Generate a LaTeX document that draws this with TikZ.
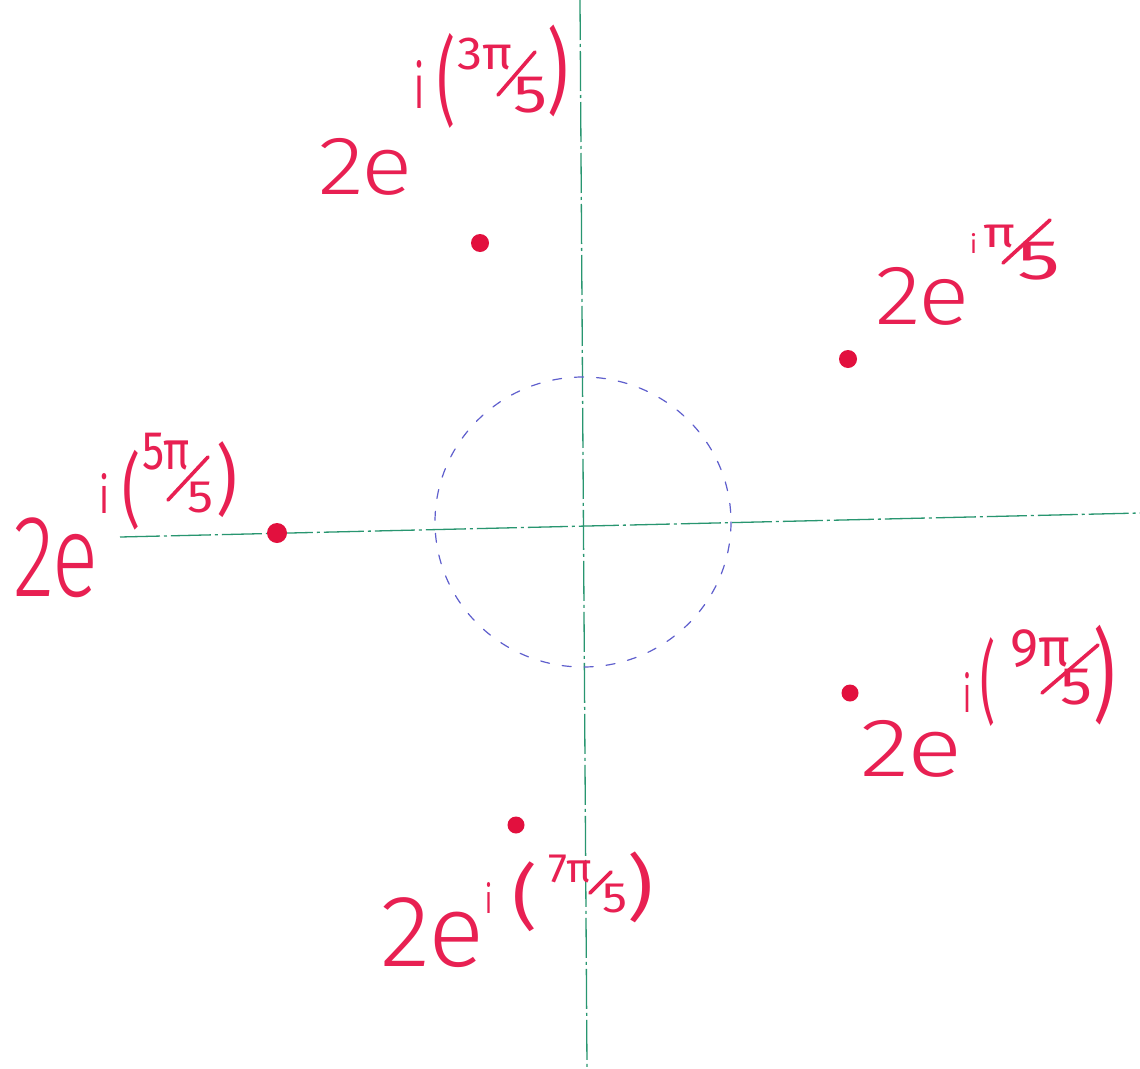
\documentclass[tikz,border=0pt]{standalone}
\usepackage{fontspec}
\setmainfont{Fira Sans}[UprightFont=* Light]
\newfontfamily\expfont{Fira Sans}
\usepackage{graphicx}
\definecolor{ink}{RGB}{232,32,82}
\definecolor{dotred}{RGB}{226,16,62}
\definecolor{axisgreen}{RGB}{40,150,112}
\definecolor{circblue}{RGB}{95,95,205}
\tikzset{
  lbl/.style={inner sep=0pt, outer sep=0pt, text=ink, anchor=north west},
  rdot/.style={circle, fill=dotred, draw=none, inner sep=0pt},
  slashline/.style={draw=ink, line width=3.6pt, line cap=round},
  axisline/.style={draw=axisgreen, line width=1.3pt, dash pattern=on 40pt off 4pt on 3pt off 4pt},
  unitcirc/.style={draw=circblue, line width=1.2pt, dash pattern=on 9pt off 13pt, line cap=round},
}
\newcommand\gl[6]{\node[lbl] (#1) at (#2,#3) {\resizebox*{#4pt}{#5pt}{#6}};}
\newcommand\gx[6]{\node[lbl] (#1) at (#2,#3) {\resizebox*{#4pt}{#5pt}{\expfont #6}};}
\begin{document}
\begin{tikzpicture}[x=1pt,y=-1pt]
\useasboundingbox (0,0) rectangle (1140,1068);
\fill[white] (0,0) rectangle (1140,1068);
% axes
\coordinate (vtop) at (580,0);
\coordinate (vbot) at (587,1068);
\coordinate (hleft) at (120,537);
\coordinate (hright) at (1140,513);
\draw[axisline] (vtop) -- (vbot);
\draw[axisline] (hleft) -- (hright);
% unit circle
\coordinate (origin) at (583,522);
\draw[unitcirc] (origin) ellipse [x radius=148, y radius=145];
% roots
\node[rdot, minimum size=18pt] (r3) at (480,243) {};
\node[rdot, minimum size=18pt] (r1) at (848,359) {};
\node[rdot, minimum size=20pt] (r5) at (277,533) {};
\node[rdot, minimum size=17pt] (r9) at (850,693) {};
\node[rdot, minimum size=17pt] (r7) at (516,825) {};
% label 3pi/5
\gl{aT}{318}{138}{95}{57}{2e}
\gx{aI}{414}{60}{10}{48}{i}
\gx{aL}{437}{33}{18}{95}{(}
\gx{aN}{457}{38}{55}{32}{3π}
\coordinate (aS1) at (498,95); \coordinate (aS2) at (535,52);
\draw[slashline] (aS1) -- (aS2);
\gx{aD}{513}{77}{34}{36}{5}
\gx{aR}{547}{25}{21}{92}{)}
% label pi/5
\gl{bT}{875}{267}{95}{58}{2e}
\gx{bI}{970}{233}{7}{20}{i}
\gx{bN}{983}{225}{32}{23}{π}
\coordinate (bS1) at (1003,263); \coordinate (bS2) at (1050,220);
\draw[slashline] (bS1) -- (bS2);
\gx{bD}{1017}{242}{43}{38}{5}
% label 5pi/5
\gl{cT}{13}{518}{85}{80}{2e}
\gx{cI}{99}{473}{10}{40}{i}
\gx{cL}{122}{450}{18}{80}{(}
\gx{cN}{142}{433}{48}{37}{5π}
\coordinate (cS1) at (168,500); \coordinate (cS2) at (208,457);
\draw[slashline] (cS1) -- (cS2);
\gx{cD}{187}{482}{26}{31}{5}
\gx{cR}{216}{442}{21}{76}{)}
% label 9pi/5
\gl{dT}{860}{720}{102}{57}{2e}
\gx{dI}{963}{672}{8}{40}{i}
\gx{dL}{980}{638}{15}{89}{(}
\gx{dN}{1010}{630}{60}{38}{9π}
\coordinate (dS1) at (1042,693); \coordinate (dS2) at (1098,645);
\draw[slashline] (dS1) -- (dS2);
\gx{dD}{1060}{669}{32}{36}{5}
\gx{dR}{1093}{625}{22}{100}{)}
% label 7pi/5
\gl{eT}{380}{898}{104}{70}{2e}
\gx{eI}{485}{882}{7}{31}{i}
\gx{eL}{512}{862}{25}{70}{(}
\gx{eN}{548}{855}{44}{28}{7π}
\coordinate (eS1) at (590,893); \coordinate (eS2) at (611,872);
\draw[slashline] (eS1) -- (eS2);
\gx{eD}{602}{884}{25}{29}{5}
\gx{eR}{627}{852}{26}{71}{)}
\end{tikzpicture}
\end{document}
